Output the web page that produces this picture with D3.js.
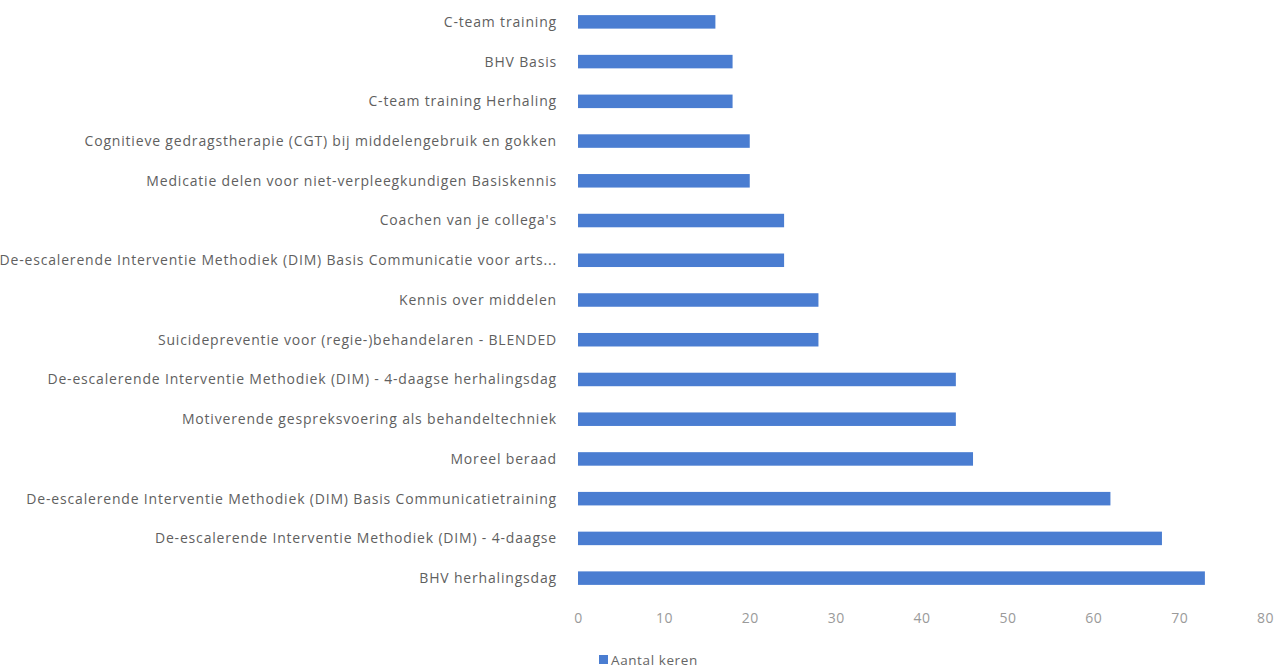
<!DOCTYPE html>
<html>
<head>
<meta charset="utf-8">
<script src="https://cdn.jsdelivr.net/npm/d3@7"></script>
<style>
  html, body { margin: 0; padding: 0; background: #fff; }
  svg text { font-family: "Open Sans", "Noto Sans", sans-serif; fill: #595959; }
</style>
</head>
<body>
<svg id="chart" width="1282" height="669"></svg>
<script>
// ── Data ──────────────────────────────────────────────────────────────────
const categories = [
  'C-team training',
  'BHV Basis',
  'C-team training Herhaling',
  'Cognitieve gedragstherapie (CGT) bij middelengebruik en gokken',
  'Medicatie delen voor niet-verpleegkundigen Basiskennis',
  "Coachen van je collega's",
  'De-escalerende Interventie Methodiek (DIM) Basis Communicatie voor arts...',
  'Kennis over middelen',
  'Suicidepreventie voor (regie-)behandelaren - BLENDED',
  'De-escalerende Interventie Methodiek (DIM) - 4-daagse herhalingsdag',
  'Motiverende gespreksvoering als behandeltechniek',
  'Moreel beraad',
  'De-escalerende Interventie Methodiek (DIM) Basis Communicatietraining',
  'De-escalerende Interventie Methodiek (DIM) - 4-daagse',
  'BHV herhalingsdag'
];
const aantalKeren = [16, 18, 18, 20, 20, 24, 24, 28, 28, 44, 44, 46, 62, 68, 73];
const xTicks = [0, 10, 20, 30, 40, 50, 60, 70, 80];
const seriesName = 'Aantal keren';

const svg = d3.select('#chart');
const BAR = '#4a7dd1';

const x = d3.scaleLinear().domain([0, 80]).range([578, 1265]);
const y = d3.scaleBand().domain(categories).range([2, 598]).paddingInner(0.66).paddingOuter(0.33);

// bars
svg.append('g').selectAll('rect')
  .data(categories)
  .join('rect')
  .attr('x', x(0))
  .attr('y', d => y(d))
  .attr('width', (d, i) => x(aantalKeren[i]) - x(0))
  .attr('height', y.bandwidth())
  .attr('fill', BAR);

// category labels
svg.append('g').selectAll('text')
  .data(categories)
  .join('text')
  .attr('x', 557)
  .attr('y', d => y(d) + y.bandwidth() / 2)
  .attr('dy', '0.35em')
  .attr('text-anchor', 'end')
  .attr('font-size', 14)
  .attr('letter-spacing', 0.82)
  .style('fill', '#5f5f5f')
  .text(d => d);

// x axis (labels only)
const xAxis = d3.axisBottom(x).tickValues(xTicks).tickSize(0).tickPadding(0);
const ax = svg.append('g').attr('transform', 'translate(0,613)').call(xAxis);
ax.select('.domain').remove();
ax.selectAll('text').attr('font-size', 14).attr('letter-spacing', 0.5).style('fill', '#9a9a9a')
  .style('font-family', '"Open Sans", "Noto Sans", sans-serif');

// legend
const lg = svg.append('g').attr('transform', 'translate(599,660)');
lg.append('rect').attr('x', 0).attr('y', -5).attr('width', 9).attr('height', 9).attr('fill', BAR);
lg.append('text').attr('x', 12).attr('y', 0).attr('dy', '0.35em').attr('font-size', 13.5)
  .attr('letter-spacing', 0.6).style('fill', '#666').text(seriesName);
</script>
</body>
</html>
